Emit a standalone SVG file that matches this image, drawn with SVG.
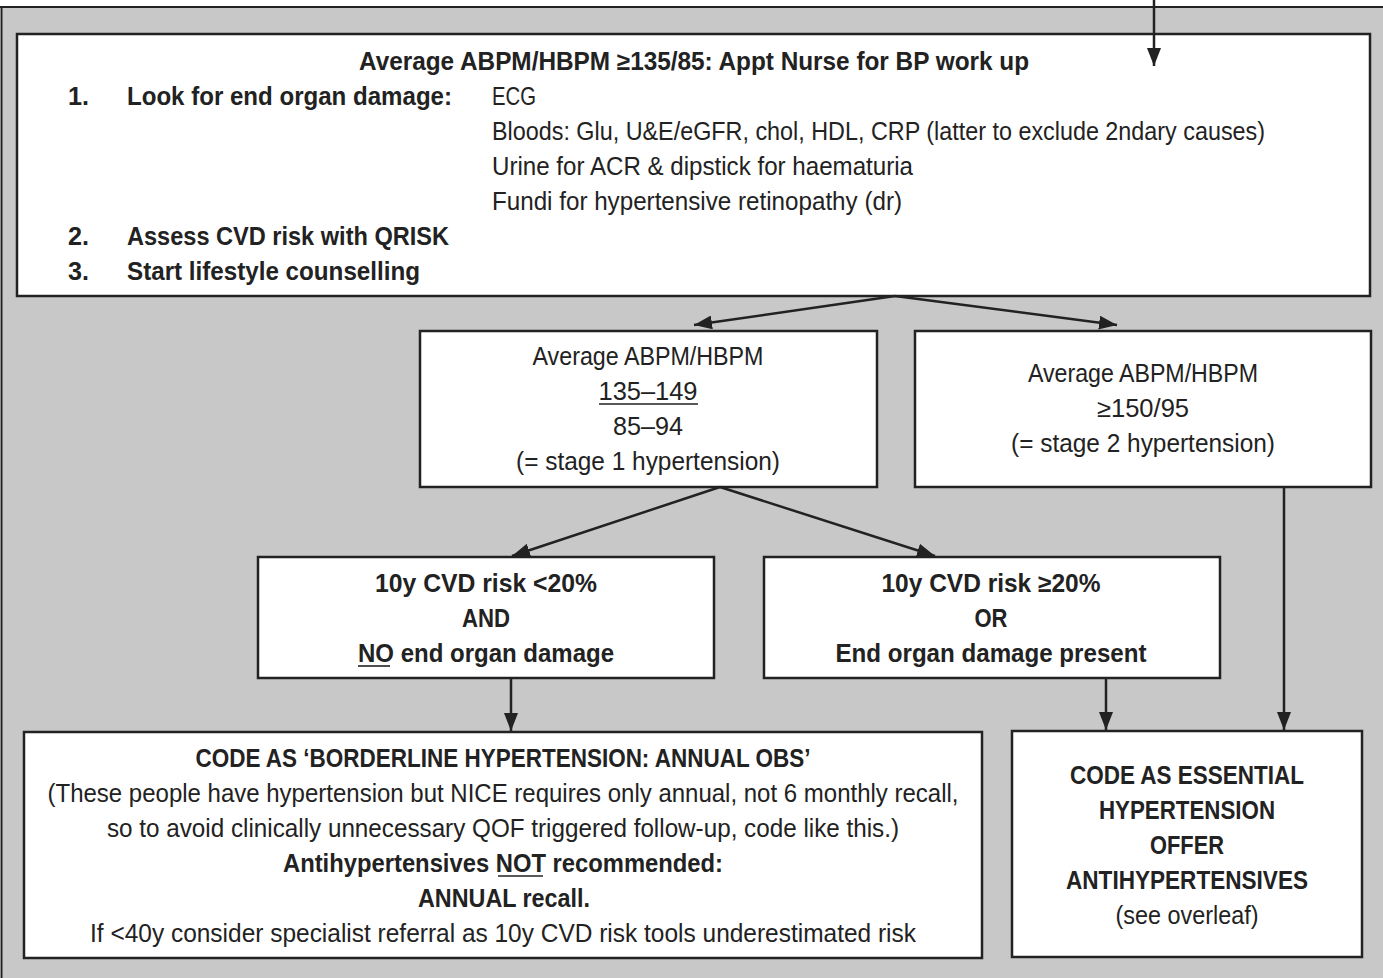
<svg xmlns="http://www.w3.org/2000/svg" width="1383" height="978" viewBox="0 0 1383 978">
<style>
text{font-family:"Liberation Sans Narrow","Liberation Sans",Arial,sans-serif;font-size:25px;fill:#222}
.b{font-weight:bold}
.m{text-anchor:middle}
.box{fill:#fff;stroke:#222;stroke-width:2.5}
.ln{stroke:#222;stroke-width:2.5;fill:none}
.ul{stroke:#222;stroke-width:1.6}
</style>
<defs>
<marker id="ah" viewBox="0 0 10 10" refX="10" refY="5" markerWidth="7" markerHeight="7" orient="auto" markerUnits="userSpaceOnUse">
<path d="M0,0 L10,5 L0,10 z" fill="#222"/>
</marker>
<marker id="ah2" viewBox="0 0 18 14" refX="18" refY="7" markerWidth="18" markerHeight="14" orient="auto" markerUnits="userSpaceOnUse">
<path d="M0,0 L18,7 L0,14 z" fill="#222"/>
</marker>
</defs>
<rect x="0" y="0" width="1383" height="978" fill="#fff"/>
<rect x="1" y="7" width="1382" height="971" fill="#c8c8c8"/>
<line x1="0" y1="7" x2="1383" y2="7" stroke="#222" stroke-width="2"/>
<line x1="1.5" y1="7" x2="1.5" y2="978" stroke="#222" stroke-width="2"/>

<g id="main">
<rect class="box" x="17" y="34" width="1353" height="262"/>
<text class="b m" x="694" y="70" textLength="670" lengthAdjust="spacingAndGlyphs">Average ABPM/HBPM ≥135/85: Appt Nurse for BP work up</text>
<text class="b" x="68" y="105" textLength="21" lengthAdjust="spacingAndGlyphs">1.</text>
<text class="b" x="127" y="105" textLength="325" lengthAdjust="spacingAndGlyphs">Look for end organ damage:</text>
<text x="492" y="105" textLength="44" lengthAdjust="spacingAndGlyphs">ECG</text>
<text x="492" y="140" textLength="773" lengthAdjust="spacingAndGlyphs">Bloods: Glu, U&amp;E/eGFR, chol, HDL, CRP (latter to exclude 2ndary causes)</text>
<text x="492" y="175" textLength="421" lengthAdjust="spacingAndGlyphs">Urine for ACR &amp; dipstick for haematuria</text>
<text x="492" y="210" textLength="410" lengthAdjust="spacingAndGlyphs">Fundi for hypertensive retinopathy (dr)</text>
<text class="b" x="68" y="245" textLength="21" lengthAdjust="spacingAndGlyphs">2.</text>
<text class="b" x="127" y="245" textLength="322" lengthAdjust="spacingAndGlyphs">Assess CVD risk with QRISK</text>
<text class="b" x="68" y="280" textLength="21" lengthAdjust="spacingAndGlyphs">3.</text>
<text class="b" x="127" y="280" textLength="293" lengthAdjust="spacingAndGlyphs">Start lifestyle counselling</text>
</g>

<g id="stage1">
<rect class="box" x="420" y="331" width="457" height="156"/>
<text class="m" x="648" y="365" textLength="231" lengthAdjust="spacingAndGlyphs">Average ABPM/HBPM</text>
<text class="m" x="648" y="400" textLength="99" lengthAdjust="spacingAndGlyphs">135–149</text>
<line class="ul" x1="599" y1="404" x2="698" y2="404"/>
<text class="m" x="648" y="435" textLength="70" lengthAdjust="spacingAndGlyphs">85–94</text>
<text class="m" x="648" y="470" textLength="264" lengthAdjust="spacingAndGlyphs">(= stage 1 hypertension)</text>
</g>

<g id="stage2">
<rect class="box" x="915" y="331" width="456" height="156"/>
<text class="m" x="1143" y="382" textLength="230" lengthAdjust="spacingAndGlyphs">Average ABPM/HBPM</text>
<text class="m" x="1143" y="417" textLength="92" lengthAdjust="spacingAndGlyphs">≥150/95</text>
<text class="m" x="1143" y="452" textLength="264" lengthAdjust="spacingAndGlyphs">(= stage 2 hypertension)</text>
</g>

<g id="risklow">
<rect class="box" x="258" y="557" width="456" height="121"/>
<text class="b m" x="486" y="592" textLength="222" lengthAdjust="spacingAndGlyphs">10y CVD risk &lt;20%</text>
<text class="b m" x="486" y="627" textLength="48" lengthAdjust="spacingAndGlyphs">AND</text>
<text class="b m" x="486" y="662" textLength="256" lengthAdjust="spacingAndGlyphs">NO end organ damage</text>
<line class="ul" x1="358" y1="666" x2="390" y2="666"/>
</g>

<g id="riskhigh">
<rect class="box" x="764" y="557" width="456" height="121"/>
<text class="b m" x="991" y="592" textLength="219" lengthAdjust="spacingAndGlyphs">10y CVD risk ≥20%</text>
<text class="b m" x="991" y="627" textLength="33" lengthAdjust="spacingAndGlyphs">OR</text>
<text class="b m" x="991" y="662" textLength="311" lengthAdjust="spacingAndGlyphs">End organ damage present</text>
</g>

<g id="borderline">
<rect class="box" x="24" y="732" width="958" height="226"/>
<text class="b m" x="503" y="767" textLength="615" lengthAdjust="spacingAndGlyphs">CODE AS ‘BORDERLINE HYPERTENSION: ANNUAL OBS’</text>
<text class="m" x="503" y="802" textLength="911" lengthAdjust="spacingAndGlyphs">(These people have hypertension but NICE requires only annual, not 6 monthly recall,</text>
<text class="m" x="503" y="837" textLength="792" lengthAdjust="spacingAndGlyphs">so to avoid clinically unnecessary QOF triggered follow-up, code like this.)</text>
<text class="b m" x="503" y="872" textLength="440" lengthAdjust="spacingAndGlyphs">Antihypertensives NOT recommended:</text>
<line class="ul" x1="498" y1="876" x2="543" y2="876"/>
<text class="b m" x="504" y="907" textLength="172" lengthAdjust="spacingAndGlyphs">ANNUAL recall.</text>
<text class="m" x="503" y="942" textLength="826" lengthAdjust="spacingAndGlyphs">If &lt;40y consider specialist referral as 10y CVD risk tools underestimated risk</text>
</g>

<g id="essential">
<rect class="box" x="1012" y="731" width="350" height="226"/>
<text class="b m" x="1187" y="784" textLength="234" lengthAdjust="spacingAndGlyphs">CODE AS ESSENTIAL</text>
<text class="b m" x="1187" y="819" textLength="176" lengthAdjust="spacingAndGlyphs">HYPERTENSION</text>
<text class="b m" x="1187" y="854" textLength="74" lengthAdjust="spacingAndGlyphs">OFFER</text>
<text class="b m" x="1187" y="889" textLength="242" lengthAdjust="spacingAndGlyphs">ANTIHYPERTENSIVES</text>
<text class="m" x="1187" y="924" textLength="143" lengthAdjust="spacingAndGlyphs">(see overleaf)</text>
</g>

<g id="connectors">
<line class="ln" x1="1154" y1="0" x2="1154" y2="66" marker-end="url(#ah2)"/>
<line class="ln" x1="895" y1="296" x2="694" y2="325" marker-end="url(#ah2)"/>
<line class="ln" x1="895" y1="296" x2="1117" y2="325" marker-end="url(#ah2)"/>
<line class="ln" x1="720" y1="487" x2="512" y2="556" marker-end="url(#ah2)"/>
<line class="ln" x1="720" y1="487" x2="935" y2="556" marker-end="url(#ah2)"/>
<line class="ln" x1="511" y1="678" x2="511" y2="731" marker-end="url(#ah2)"/>
<line class="ln" x1="1106" y1="678" x2="1106" y2="730" marker-end="url(#ah2)"/>
<line class="ln" x1="1284" y1="487" x2="1284" y2="730" marker-end="url(#ah2)"/>
</g>
</svg>
